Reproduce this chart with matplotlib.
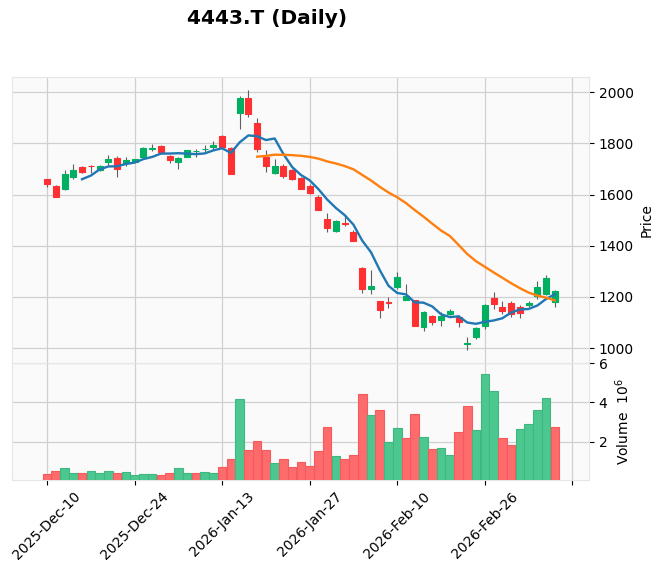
import matplotlib
matplotlib.use("Agg")
import matplotlib.pyplot as plt
import numpy as np
import pandas as pd

# datos diarios de 4443.T
fechas = ["2025-12-10", "2025-12-11", "2025-12-12", "2025-12-15", "2025-12-16",
          "2025-12-17", "2025-12-18", "2025-12-19", "2025-12-22", "2025-12-23",
          "2025-12-24", "2025-12-25", "2025-12-26", "2025-12-29", "2025-12-30",
          "2026-01-05", "2026-01-06", "2026-01-07", "2026-01-08", "2026-01-09",
          "2026-01-13", "2026-01-14", "2026-01-15", "2026-01-16", "2026-01-19",
          "2026-01-20", "2026-01-21", "2026-01-22", "2026-01-23", "2026-01-26",
          "2026-01-27", "2026-01-28", "2026-01-29", "2026-01-30", "2026-02-02",
          "2026-02-03", "2026-02-04", "2026-02-05", "2026-02-06", "2026-02-09",
          "2026-02-10", "2026-02-12", "2026-02-13", "2026-02-16", "2026-02-17",
          "2026-02-18", "2026-02-19", "2026-02-20", "2026-02-24", "2026-02-25",
          "2026-02-26", "2026-02-27", "2026-03-02", "2026-03-03", "2026-03-04",
          "2026-03-05", "2026-03-06", "2026-03-09", "2026-03-10"]

apertura = [1660, 1633, 1623, 1668, 1709, 1713, 1695, 1726, 1744, 1722,
            1728, 1748, 1778, 1791, 1752, 1726, 1747, 1769, 1776, 1787,
            1829, 1782, 1920, 1977, 1881, 1747, 1685, 1713, 1695, 1664,
            1632, 1592, 1504, 1459, 1490, 1452, 1314, 1230, 1185, 1182,
            1238, 1187, 1187, 1084, 1124, 1110, 1133, 1120, 1018, 1045,
            1086, 1196, 1161, 1178, 1161, 1168, 1204, 1213, 1181]
maximo = [1662, 1637, 1694, 1720, 1712, 1717, 1714, 1756, 1751, 1746,
          1740, 1787, 1796, 1795, 1754, 1748, 1775, 1779, 1793, 1809,
          1831, 1785, 1984, 2008, 1898, 1772, 1740, 1721, 1700, 1668,
          1640, 1597, 1527, 1500, 1517, 1462, 1316, 1307, 1186, 1200,
          1297, 1252, 1190, 1145, 1129, 1140, 1152, 1129, 1044, 1084,
          1174, 1220, 1183, 1183, 1168, 1184, 1261, 1284, 1226]
minimo = [1628, 1590, 1619, 1659, 1685, 1685, 1693, 1714, 1669, 1713,
          1726, 1745, 1768, 1763, 1724, 1700, 1745, 1747, 1765, 1775,
          1784, 1680, 1855, 1904, 1765, 1687, 1682, 1663, 1655, 1620,
          1602, 1538, 1452, 1452, 1478, 1417, 1217, 1213, 1119, 1158,
          1233, 1187, 1085, 1069, 1090, 1088, 1130, 1084, 993, 1035,
          1075, 1155, 1132, 1123, 1119, 1161, 1194, 1207, 1161]
cierre = [1641, 1592, 1681, 1697, 1688, 1711, 1712, 1740, 1700, 1733,
          1738, 1780, 1782, 1765, 1735, 1744, 1773, 1771, 1779, 1794,
          1786, 1682, 1977, 1915, 1778, 1711, 1713, 1672, 1662, 1623,
          1607, 1540, 1470, 1496, 1484, 1420, 1230, 1244, 1148, 1177,
          1279, 1203, 1088, 1142, 1103, 1127, 1147, 1103, 1021, 1078,
          1167, 1172, 1146, 1132, 1138, 1178, 1239, 1275, 1224]
volumen = [370000, 530000, 680000, 430000, 430000, 530000, 430000, 530000, 430000, 480000,
           320000, 370000, 370000, 320000, 430000, 680000, 430000, 430000, 480000, 430000,
           730000, 1140000, 4170000, 1600000, 2070000, 1600000, 940000, 1140000, 730000, 990000,
           780000, 1550000, 2780000, 1300000, 1140000, 1350000, 4430000, 3350000, 3610000, 2020000,
           2730000, 2220000, 3400000, 2270000, 1660000, 1710000, 1350000, 2480000, 3810000, 2580000,
           5450000, 4580000, 2220000, 1860000, 2680000, 2890000, 3610000, 4220000, 2780000]

medias = (5, 25)
colores_media = ["#1f77b4", "#ff7f0e"]

verde = "#00b060"
rojo = "#fe3032"
verde_vol = "#4dc790"
rojo_vol = "#fd6b6c"

fechas = pd.to_datetime(fechas)
x = np.arange(len(fechas))
o = np.array(apertura, dtype=float)
h = np.array(maximo, dtype=float)
l = np.array(minimo, dtype=float)
c = np.array(cierre, dtype=float)
v = np.array(volumen, dtype=float) / 1e6

fig = plt.figure(figsize=(6.62, 5.72), dpi=100)
ax = fig.add_axes([12/662, 1-363/572, 577/662, 286/572])
axv = fig.add_axes([12/662, 1-479.5/572, 577/662, 116.5/572], sharex=ax)

for a in (ax, axv):
    a.set_facecolor("#fafafa")
    a.grid(True, color="#d0d0d0", linewidth=0.9)
    a.set_axisbelow(True)
    for s in a.spines.values():
        s.set_color("#e6e6e6")
    a.yaxis.tick_right()
    a.yaxis.set_label_position("right")
    a.tick_params(axis="y", labelsize=10, length=3.5)

# velas
sube = c >= o
col = np.where(sube, verde, rojo)
ax.vlines(x, l, h, color="#606060", linewidth=0.8, zorder=2)
ax.bar(x, c - o, bottom=o, width=0.68, color=col, edgecolor=col, linewidth=0.8, zorder=3)

# medias moviles
for n, cm in zip(medias, colores_media):
    m = pd.Series(c).rolling(n).mean()
    ax.plot(x, m, color=cm, linewidth=1.7, zorder=4)

rango = h.max() - l.min()
ax.set_ylim(l.min() - 0.05 * rango, h.max() + 0.05 * rango)
ax.set_ylabel("Price", fontsize=10)
ax.tick_params(axis="x", length=0, labelbottom=False)

# volumen (color segun cierre anterior)
prev = np.concatenate([[o[0]], c[:-1]])
colv = np.where(c >= prev, verde_vol, rojo_vol)
bordev = np.where(c >= prev, "#3fb880", "#f55a5c")
axv.bar(x, v, width=0.98, color=colv, edgecolor=bordev, linewidth=0.8, zorder=3)
axv.set_ylim(0.3 * v.min(), 1.1 * v.max())
axv.set_yticks([2, 4, 6])
axv.set_ylabel("Volume  $10^{6}$", fontsize=10)

ticks = np.arange(0, 61, 10)
etiquetas = [fechas[t].strftime("%Y-%b-%d") if t < len(fechas) else "" for t in ticks]
axv.set_xticks(ticks)
axv.set_xticklabels(etiquetas, rotation=45, ha="center", fontsize=10)
axv.tick_params(axis="x", length=3.5)
axv.set_xlim(-4, 61.9)

fig.text(0.403, 0.967, "4443.T (Daily)", fontsize=14.5, fontweight="bold",
         ha="center", va="center")

fig.savefig("out.png", dpi=100)
